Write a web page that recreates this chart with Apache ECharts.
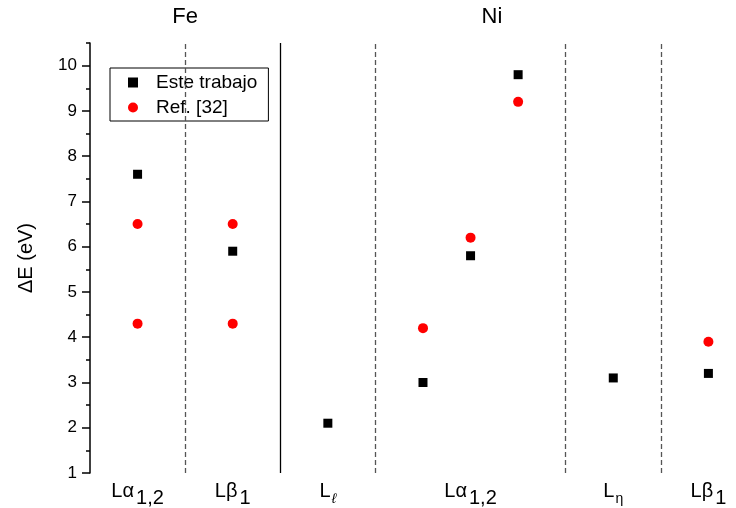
<!DOCTYPE html>
<html>
<head>
<meta charset="utf-8">
<script src="https://cdn.jsdelivr.net/npm/echarts@6/dist/echarts.min.js"></script>
<style>
  html, body { margin: 0; padding: 0; background: #fff; }
  #chart { width: 736px; height: 508px; }
</style>
</head>
<body>
<div id="chart"></div>
<script>
// Line positions along the horizontal axis and their labels
const linePositions = [1, 3, 5, 8, 11, 13];
const lineLabels = [
  '{m|L\u03b1}{s|1,2}',
  '{m|L\u03b2}{s|1}',
  '{m|L}{e|\u2113}',
  '{m|L\u03b1}{s|1,2}',
  '{m|L}{n|\u03b7}',
  '{m|L\u03b2}{s|1}'
];
const groupTitles = ['Fe', 'Ni'];
const groupTitleCenters = [2, 8.45];

// Separators between groups of lines (solid one splits Fe from Ni)
const dashedSeparators = [2, 6, 10, 12];
const solidSeparators = [4];

// Energy shifts, ΔE (eV)
const esteTrabajo = [
  [1, 7.6], [3, 5.9], [5, 2.1], [7, 3.0], [8, 5.8], [9, 9.8], [11, 3.1], [13, 3.2]
];
const ref32 = [
  [1, 6.5], [1, 4.3], [3, 6.5], [3, 4.3], [7, 4.2], [8, 6.2], [9, 9.2], [13, 3.9]
];

const yMajorTicks = [1, 2, 3, 4, 5, 6, 7, 8, 9, 10];
const yMinorTicks = yMajorTicks.map(v => v + 0.5);

const FONT = 'Liberation Sans, Arial, sans-serif';
const X_MAX = 13.58;

const chart = echarts.init(document.getElementById('chart'));

chart.setOption({
  animation: false,
  backgroundColor: '#fff',
  grid: { left: 90, top: 43, height: 430, right: 0 },
  xAxis: {
    type: 'value',
    min: 0,
    max: X_MAX,
    axisLine: { show: false },
    axisTick: { show: false },
    splitLine: { show: false },
    axisLabel: {
      customValues: linePositions,
      margin: 8,
      hideOverlap: false,
      formatter: v => {
        const i = linePositions.indexOf(v);
        return i >= 0 ? lineLabels[i] : '';
      },
      rich: {
        m: { fontFamily: FONT, fontSize: 20, color: '#000', verticalAlign: 'top' },
        s: { fontFamily: FONT, fontSize: 20, color: '#000', verticalAlign: 'top', padding: [7, 0, 0, 2] },
        e: { fontFamily: FONT, fontSize: 14, fontStyle: 'italic', color: '#000', verticalAlign: 'top', padding: [11, 0, 0, 1] },
        n: { fontFamily: FONT, fontSize: 14, color: '#000', verticalAlign: 'top', padding: [11, 0, 0, 1] }
      }
    }
  },
  yAxis: [
    {
      type: 'value',
      min: 1,
      max: 10.5,
      name: '\u0394E (eV)',
      nameLocation: 'middle',
      nameGap: 54,
      nameTextStyle: { fontFamily: FONT, fontSize: 20, color: '#000' },
      axisLine: { show: true, lineStyle: { color: '#000', width: 1.5 } },
      axisTick: { show: true, inside: false, length: 8, customValues: yMajorTicks, lineStyle: { color: '#000', width: 1.5 } },
      axisLabel: { customValues: yMajorTicks, fontFamily: FONT, fontSize: 17, color: '#000', margin: 13 },
      splitLine: { show: false }
    },
    {
      type: 'value',
      min: 1,
      max: 10.5,
      position: 'left',
      axisLine: { show: false },
      axisTick: { show: true, inside: false, length: 4, customValues: yMinorTicks, lineStyle: { color: '#000', width: 1.5 } },
      axisLabel: { show: false },
      splitLine: { show: false }
    }
  ],
  legend: {
    left: 110,
    top: 68,
    orient: 'vertical',
    backgroundColor: '#fff',
    borderColor: '#000',
    borderWidth: 1,
    borderRadius: 0,
    padding: [5, 11, 4, 18],
    itemGap: 6,
    itemWidth: 10,
    itemHeight: 10,
    textStyle: { fontFamily: FONT, fontSize: 19, color: '#000', padding: [0, 0, 0, 13] },
    data: [
      { name: 'Este trabajo', icon: 'rect', itemStyle: { opacity: 1 } },
      { name: 'Ref. [32]', icon: 'circle', itemStyle: { opacity: 1 } }
    ]
  },
  series: [
    {
      name: 'Separators',
      type: 'line',
      data: [],
      silent: true,
      markLine: {
        silent: true,
        symbol: 'none',
        label: { show: false },
        animation: false,
        data: [
          ...dashedSeparators.map(x => ({ xAxis: x, lineStyle: { type: [5, 3], color: '#555', width: 1.3 } })),
          ...solidSeparators.map(x => ({ xAxis: x, lineStyle: { type: 'solid', color: '#000', width: 1.3 } }))
        ]
      }
    },
    {
      name: 'Este trabajo',
      type: 'scatter',
      symbol: 'rect',
      symbolSize: 9,
      itemStyle: { color: '#000', opacity: 1 },
      data: esteTrabajo,
      z: 3
    },
    {
      name: 'Ref. [32]',
      type: 'scatter',
      symbol: 'circle',
      symbolSize: 10,
      itemStyle: { color: '#ff0000', opacity: 1 },
      data: ref32,
      z: 4
    }
  ]
});

// Group titles ("Fe", "Ni") centred over their sections, placed through the x scale
chart.setOption({
  graphic: groupTitles.map((t, i) => ({
    type: 'text',
    x: chart.convertToPixel({ xAxisIndex: 0 }, groupTitleCenters[i]),
    y: 6,
    style: { text: t, fontFamily: FONT, fontSize: 22, fill: '#000', align: 'center', verticalAlign: 'top' }
  }))
});
</script>
</body>
</html>
